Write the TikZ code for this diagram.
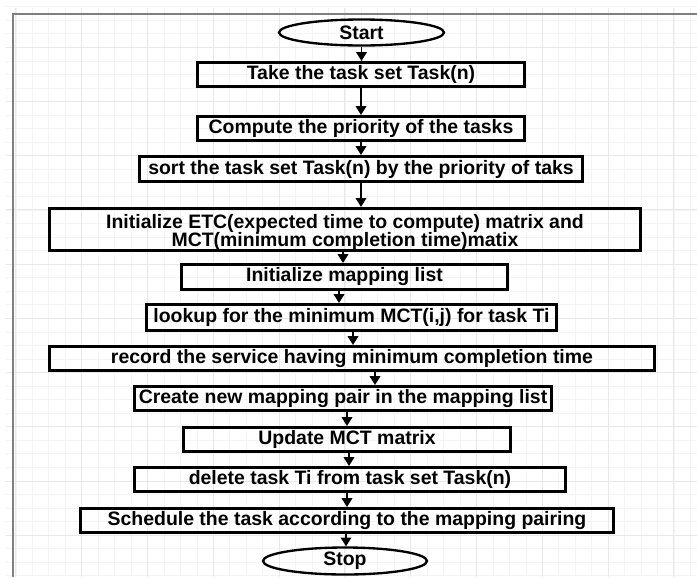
\documentclass[tikz,border=0pt]{standalone}
\usepackage{fontspec}
\setmainfont{Liberation Sans}
\usetikzlibrary{arrows.meta,shapes.geometric}

\definecolor{gridmajor}{HTML}{E8E8E8}
\definecolor{gridminor}{HTML}{F4F4F4}
\definecolor{framegray}{HTML}{7F7F7F}
\newcommand{\pxu}{0.03cm}

\begin{document}
\begin{tikzpicture}[x=0.03cm,y=-0.03cm,
	>={Triangle[width=9pt,length=7.5pt]},
	stepbox/.style={draw,line width=2.6pt,inner sep=0pt,align=center,font=\bfseries\fontsize{16.6}{15.5}\selectfont},
	terminal/.style={ellipse,draw,line width=2pt,inner sep=0pt,font=\bfseries\fontsize{16.6}{15.5}\selectfont},
	flow/.style={->,line width=1.3pt}]
	\useasboundingbox (0,0) rectangle (697,577);
	
	% background grid
	\foreach \i in {0,...,41} \draw[gridminor,line width=.6pt] (15.9+\i*16.45,8) -- (15.9+\i*16.45,577);
	\foreach \i in {0,...,42} \draw[gridminor,line width=.6pt] (6,6.65+\i*13.55) -- (697,6.65+\i*13.55);
	\foreach \i in {0,...,10} \draw[gridmajor,line width=.7pt] (15.9+\i*65.8,8) -- (15.9+\i*65.8,577);
	\foreach \i in {0,...,9} \draw[gridmajor,line width=.7pt] (6,47.3+\i*54.2) -- (697,47.3+\i*54.2);
	\draw[framegray,line width=2pt] (13,577) -- (13,14) -- (697,14);
	
	\node[terminal,minimum width=165*\pxu,minimum height=26*\pxu] (start) at (361.5,32.5) {Start};
	\node[stepbox,minimum width=327*\pxu,minimum height=24*\pxu] (take) at (361,74.5) {Take the task set Task(n)};
	\node[stepbox,minimum width=327*\pxu,minimum height=24*\pxu] (prio) at (361,128.5) {Compute the priority of the tasks};
	\node[stepbox,minimum width=443*\pxu,minimum height=25*\pxu] (sort) at (361,169) {sort the task set Task(n) by the priority of taks};
	\node[stepbox,minimum width=591*\pxu,minimum height=38*\pxu] (init) at (345,229.5) {\rule{0pt}{17pt}Initialize ETC(expected time to compute) matrix and\\MCT(minimum completion time)matix};
	\node[stepbox,minimum width=326*\pxu,minimum height=25*\pxu] (maplist) at (344.5,277) {Initialize mapping list};
	\node[stepbox,minimum width=410*\pxu,minimum height=26*\pxu] (lookup) at (351.5,317.5) {lookup for the minimum MCT(i,j) for task Ti};
	\node[stepbox,minimum width=605*\pxu,minimum height=24*\pxu] (record) at (352,358.5) {record the service having minimum completion time};
	\node[stepbox,minimum width=417*\pxu,minimum height=24*\pxu] (newpair) at (343,398.5) {Create new mapping pair in the mapping list};
	\node[stepbox,minimum width=327*\pxu,minimum height=24*\pxu] (update) at (347,439.5) {Update MCT matrix};
	\node[stepbox,minimum width=431*\pxu,minimum height=24*\pxu] (delete) at (350,479.5) {delete task Ti from task set Task(n)};
	\node[stepbox,minimum width=533*\pxu,minimum height=24*\pxu] (schedule) at (347,520.5) {Schedule the task according to the mapping pairing};
	\node[terminal,minimum width=164*\pxu,minimum height=27*\pxu] (stop) at (345,561) {Stop};
	
	\draw[flow] (start.south -| 361.5,0) -- (take.north -| 361.5,0);
	\draw[flow] (take.south -| 361,0) -- (prio.north -| 361,0);
	\draw[flow] (prio.south -| 361,0) -- (sort.north -| 361,0);
	\draw[flow] (sort.south -| 361,0) -- (init.north -| 361,0);
	\draw[flow] (init.south -| 343,0) -- (maplist.north -| 343,0);
	\draw[flow] (maplist.south -| 339,0) -- (lookup.north -| 339,0);
	\draw[flow] (lookup.south -| 353,0) -- (record.north -| 353,0);
	\draw[flow] (record.south -| 375,0) -- (newpair.north -| 375,0);
	\draw[flow] (newpair.south -| 347,0) -- (update.north -| 347,0);
	\draw[flow] (update.south -| 349,0) -- (delete.north -| 349,0);
	\draw[flow] (delete.south -| 347,0) -- (schedule.north -| 347,0);
	\draw[flow] (schedule.south -| 346,0) -- (stop.north -| 346,0);
\end{tikzpicture}
\end{document}
